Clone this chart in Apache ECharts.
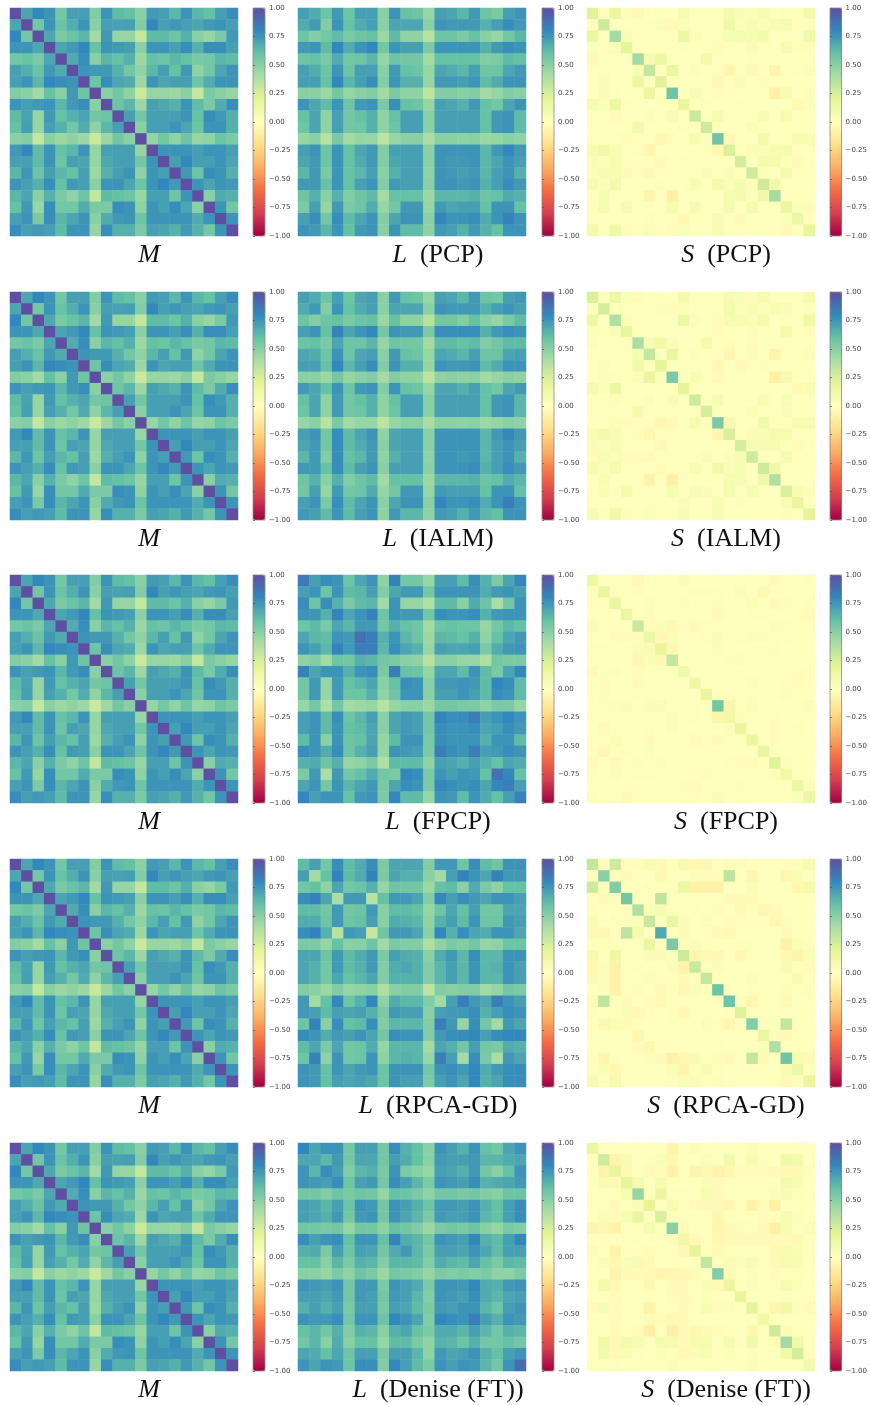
<!DOCTYPE html>
<html><head><meta charset="utf-8">
<style>html,body{margin:0;padding:0;background:#fff}#c{width:870px;height:1405px;filter:blur(0.5px)}</style>
<script src="https://cdn.jsdelivr.net/npm/echarts@6/dist/echarts.min.js"></script>
</head><body><div id="c"></div>
<script>
// Values in hundredths, upper triangle by row (matrices are symmetric)
const M=[[100,70,80,76,56,72,72,52,76,62,60,50,74,72,64,76,64,60,72,78],[100,56,76,59,67,76,50,72,71,72,52,80,72,75,72,70,74,76,72],[100,69,54,59,64,42,74,46,46,32,62,62,58,66,50,46,54,74],[100,70,74,80,60,76,74,72,50,76,76,72,78,66,78,78,72],[100,68,78,50,64,60,66,44,60,58,64,60,54,56,64,62],[100,76,74,74,66,56,48,64,72,60,74,48,56,70,76],[100,58,78,70,68,44,76,70,72,72,58,68,76,76],[100,50,56,48,30,46,46,44,50,32,54,50,46],[100,58,64,44,72,69,66,76,62,54,68,78],[100,72,56,72,72,72,76,60,78,74,66],[100,50,72,72,76,70,58,76,76,66],[100,46,56,48,58,46,48,58,54],[100,76,76,76,72,76,76,72],[100,72,80,72,72,76,70],[100,74,58,78,76,66],[100,76,70,76,74],[100,50,68,66],[100,76,56],[100,76],[100]];
const L_PCP=[[72,68,58,74,58,72,72,50,76,60,58,46,72,70,64,74,58,54,72,76],[74,52,76,60,68,72,50,70,70,70,50,76,74,74,74,66,72,78,74],[56,62,54,58,60,44,62,48,48,36,58,58,54,60,50,46,56,64],[80,68,76,80,56,76,72,72,54,76,76,76,76,66,74,78,76],[56,58,64,46,58,56,56,42,60,60,60,60,52,54,62,60],[72,72,50,74,60,58,46,70,68,64,72,58,58,70,74],[78,52,76,66,66,46,74,74,72,76,62,68,76,76],[42,54,48,48,34,52,52,50,52,42,46,52,50],[78,60,58,46,72,70,66,74,60,56,70,76],[72,72,50,72,72,72,72,60,74,76,62],[72,50,72,72,72,72,60,74,76,62],[40,50,50,48,50,44,46,50,48],[76,76,76,76,64,74,80,74],[74,74,76,64,70,76,72],[72,74,64,72,76,66],[76,66,72,78,74],[58,60,68,66],[76,76,60],[82,76],[76]];
const S_PCP=[[22,2,16,3,-4,1,1,0,8,1,1,1,8,4,3,8,1,2,2,10],[28,1,2,2,2,4,-3,3,1,1,1,12,3,6,3,7,8,2,2],[42,5,1,1,1,-1,14,-2,1,-1,7,8,6,10,1,1,2,12],[20,1,1,1,1,2,1,1,-2,1,1,-3,1,1,8,2,-2],[42,7,14,1,1,1,10,-1,-1,1,2,1,1,1,1,1],[32,2,16,1,3,1,-1,-6,1,-4,1,-7,1,2,4],[22,1,1,1,1,-5,1,-3,1,-2,1,1,1,1],[58,1,6,1,-1,1,1,1,1,-10,8,1,-2],[18,1,3,1,1,2,1,1,2,1,-4,3],[30,1,8,1,1,1,7,1,8,1,1],[28,1,1,1,5,1,1,1,1,1],[58,-5,1,1,10,1,1,6,7],[24,1,4,4,8,8,1,1],[26,1,9,9,1,-3,1],[28,3,2,9,1,1],[28,12,1,1,1],[42,2,1,1],[16,3,-3],[14,2],[18]];
const L_IALM=[[72,68,58,72,58,70,72,50,74,60,58,46,72,70,64,74,58,56,72,74],[74,52,76,60,68,72,50,70,70,70,50,76,74,74,74,66,72,76,72],[58,60,54,58,60,44,60,48,48,36,56,56,52,60,50,46,54,62],[82,70,76,80,56,76,74,74,54,78,78,78,78,66,74,78,76],[58,58,64,46,58,56,56,42,62,62,60,62,52,56,62,62],[70,72,50,74,60,58,46,70,68,64,72,58,58,70,72],[78,52,76,66,66,46,76,74,74,76,62,68,76,76],[42,52,48,48,34,48,50,48,50,42,46,50,48],[76,60,58,46,70,70,66,72,60,56,70,74],[72,72,50,72,72,72,72,60,74,76,64],[72,50,72,72,72,72,60,74,76,64],[40,50,50,48,50,44,46,50,48],[76,76,76,76,64,74,80,74],[76,76,76,64,72,76,72],[74,76,64,72,76,66],[78,66,72,78,74],[58,60,68,64],[76,76,60],[84,76],[76]];
const S_IALM=[[24,2,14,3,-2,1,1,0,9,1,1,1,7,4,-2,8,1,1,2,8],[26,1,2,1,1,3,-2,3,1,1,1,10,3,6,3,6,5,1,2],[38,5,1,1,1,-1,14,-2,1,-2,6,6,5,9,1,-1,-1,13],[18,1,1,1,1,2,1,1,-2,1,1,-2,1,1,9,1,-2],[40,6,13,4,1,1,9,-1,-2,1,-2,1,1,1,1,1],[32,2,16,1,3,1,-1,-6,1,-3,1,-7,1,1,4],[20,1,1,1,1,-5,1,-4,1,-2,1,1,1,1],[54,1,6,1,-3,1,1,1,1,-10,8,1,-1],[20,1,2,1,1,1,1,1,1,1,-4,6],[28,1,8,1,1,1,7,1,7,1,1],[26,1,1,1,5,1,1,4,1,1],[54,-6,1,1,11,1,1,6,7],[24,1,4,4,8,8,1,1],[26,6,7,7,1,-2,1],[28,1,1,8,1,1],[28,12,1,1,1],[38,1,1,1],[24,6,-2],[16,2],[20]];
const L_FPCP=[[85,72,78,76,58,70,76,48,82,56,56,46,72,72,62,78,66,54,70,80],[76,58,76,62,64,72,52,70,74,74,56,76,76,76,76,68,74,76,72],[78,66,54,62,64,42,76,46,46,38,62,62,50,68,58,40,56,76],[82,70,76,82,58,76,74,74,56,78,76,76,78,66,74,76,76],[64,74,74,56,66,60,58,42,58,60,58,58,46,56,64,60],[88,84,66,76,64,58,44,64,62,60,66,48,60,70,74],[84,64,78,70,66,46,72,70,70,72,54,68,74,76],[56,54,50,48,36,50,50,46,46,38,56,54,54],[84,60,58,46,70,70,62,76,62,54,70,80],[78,76,50,74,74,76,74,62,80,78,62],[76,50,72,72,76,72,62,78,76,62],[44,56,56,54,54,48,54,54,46],[82,78,78,84,72,76,80,76],[76,76,78,70,72,78,74],[76,76,66,76,76,62],[84,72,74,78,76],[66,60,70,68],[88,80,60],[84,72],[82]];
const S_FPCP=[[14,-1,1,1,-4,1,-1,1,-3,1,1,1,1,1,1,1,-3,2,1,-1],[16,-1,1,-1,1,2,2,1,-2,-2,-1,1,-3,1,-5,1,1,1,1],[16,1,1,-2,-1,1,-2,1,1,-2,1,1,5,1,-3,3,1,-1],[16,1,-2,1,1,1,1,1,-3,1,1,-1,-1,1,1,1,-3],[30,-2,4,-5,-1,-3,2,1,1,1,1,1,3,-1,1,1],[14,-4,5,1,1,-1,4,1,2,-2,3,2,-1,1,1],[18,-5,1,1,1,-3,1,1,1,1,3,1,1,1],[32,1,1,1,1,3,3,1,1,1,1,1,1],[12,1,1,1,1,1,1,1,1,1,-2,-1],[14,1,-1,-1,1,-2,1,1,-1,-2,-1],[16,1,1,1,1,1,1,-2,1,1],[56,-7,1,-3,1,1,1,1,5],[12,-2,1,1,-1,1,1,1],[18,1,1,-2,1,-2,1],[16,1,-2,1,1,1],[16,1,1,1,1],[22,-2,1,1],[12,1,1],[14,3],[14]];
const L_RPCA=[[62,72,56,78,62,68,78,54,70,70,70,52,74,74,58,78,62,58,76,76],[42,60,82,62,68,82,54,70,66,66,50,42,72,82,76,70,82,74,74],[48,70,56,58,66,46,58,56,56,44,60,62,50,68,54,48,60,60],[40,74,74,36,60,74,74,70,52,80,72,78,74,70,76,76,72],[56,58,74,50,62,62,60,46,58,70,60,72,56,56,70,70],[60,72,50,68,66,64,48,66,72,62,76,58,58,74,72],[32,58,74,74,70,50,80,66,78,70,68,76,76,70],[42,54,52,52,38,48,54,52,56,46,48,58,58],[72,68,66,50,68,74,64,78,64,64,76,76],[70,66,52,64,72,64,76,64,66,76,72],[66,52,64,72,64,76,64,64,76,72],[34,52,50,52,52,42,46,56,54],[42,72,84,74,70,84,76,72],[74,74,78,66,72,78,76],[46,78,56,42,74,70],[80,72,78,80,80],[56,54,68,66],[40,74,70],[78,78],[78]];
const S_RPCA=[[32,2,28,2,-1,6,-4,1,9,-5,-5,1,4,3,1,1,1,-1,-1,8],[50,1,-3,1,1,-5,2,1,3,3,3,34,1,-6,1,1,-6,5,1],[52,1,2,3,1,-1,14,-8,-8,-8,1,1,5,1,1,-1,-5,9],[56,2,2,34,-1,1,1,1,1,-3,5,-3,1,1,1,1,1],[38,5,8,2,1,2,1,-2,1,-4,2,-6,-3,1,1,1],[30,1,16,4,1,-3,1,-2,-1,1,1,-6,-2,1,1],[68,1,4,1,1,-3,-4,1,1,1,1,-3,1,1],[54,2,4,1,1,1,2,2,1,1,-9,5,-1],[28,-7,-3,-5,1,-5,1,1,1,-5,-7,5],[30,2,4,1,1,1,1,1,6,1,-3],[32,1,1,1,5,1,1,1,6,1],[58,-1,1,-1,1,2,3,2,3],[58,2,-6,1,1,-4,1,1],[22,1,2,1,1,1,1],[52,1,1,32,-1,1],[16,4,-3,1,1],[38,1,1,1],[58,6,-4],[14,1],[18]];
const L_DEN=[[80,70,76,76,56,72,72,56,78,66,60,50,76,72,66,76,60,56,70,76],[70,64,74,56,70,70,56,72,68,60,50,74,72,72,74,64,64,68,70],[78,72,52,64,66,54,76,54,50,46,72,70,66,74,56,50,60,76],[78,58,72,74,56,78,72,64,54,76,74,72,78,66,68,70,74],[54,58,56,46,60,58,54,48,56,56,54,56,52,50,58,58],[76,74,56,76,72,66,58,74,74,72,76,66,60,72,78],[76,56,76,70,64,54,74,72,72,76,64,60,72,78],[48,60,56,52,44,54,56,54,58,50,46,54,52],[82,68,64,56,76,74,72,80,66,62,72,80],[74,64,54,72,72,70,76,70,62,72,72],[62,52,68,64,62,70,60,54,64,62],[46,54,52,54,52,54,48,48,54],[76,76,74,80,68,66,74,76],[74,72,78,68,64,70,72],[76,76,64,58,72,76],[84,72,66,76,74],[64,56,66,64],[56,60,56],[72,76],[90]];
const S_DEN=[[16,1,1,1,1,1,1,-7,1,-3,1,1,1,1,-3,1,1,1,1,1],[28,-7,6,1,2,5,-5,1,1,4,1,10,1,6,1,1,12,10,1],[18,-4,1,-3,-2,-8,1,-7,-5,-8,-5,-2,-2,-2,-3,-4,-4,-1],[20,8,1,6,1,1,1,4,-3,1,1,1,1,1,10,6,1],[46,4,16,2,2,1,8,-3,1,1,1,1,-2,6,2,1],[20,1,8,1,-3,-3,-4,-5,1,-8,-2,-10,1,1,1],[24,1,1,1,1,-6,1,1,1,-2,-1,8,3,1],[50,-2,1,1,-6,-3,-2,-1,-4,-10,8,1,-3],[12,-4,1,-5,-3,-3,-3,-3,-3,-3,-4,1],[20,2,-3,1,1,1,1,-5,8,4,1],[32,1,5,3,6,1,-3,8,6,1],[52,-4,1,-2,1,-2,1,2,1],[16,1,3,1,-1,8,3,1],[18,1,1,1,2,1,1],[20,1,-6,12,3,-3],[12,1,1,1,1],[28,-3,1,1],[42,12,1],[26,1],[10]];

const methods=['PCP','IALM','FPCP','RPCA-GD','Denise (FT)'];
const lowRank=[L_PCP,L_IALM,L_FPCP,L_RPCA,L_DEN];
const sparse=[S_PCP,S_IALM,S_FPCP,S_RPCA,S_DEN];
const tickLabels=['-1.00','-0.75','-0.50','-0.25','0.00','0.25','0.50','0.75','1.00'];
const spectral=['#9e0142','#d53e4f','#f46d43','#fdae61','#fee08b','#ffffbf','#e6f598','#abdda4','#66c2a5','#3288bd','#5e4fa2'];
const cells=Array.from({length:20},(_,i)=>String(i));

const rowTop=[8,292,575,859,1143], colLeft=[10,298,587], barLeft=[253,542,830], labelX=[149,438,726];
const SIZE=228, BAR=12;

function mirror(tri,name){
  const out=[];
  tri.forEach((r,i)=>{
    if(r.length!==20-i) throw new Error(name+' row '+i+' has '+r.length);
    r.forEach((v,k)=>{const j=i+k;out.push([j,i,v/100]);if(j!==i)out.push([i,j,v/100]);});
  });
  return out;
}
const serif='"Liberation Serif","DejaVu Serif",serif';
const rich={i:{fontFamily:serif,fontStyle:'italic',fontWeight:'normal',fontSize:26,fill:'#111'},t:{fontFamily:serif,fontWeight:'normal',fontSize:26,fill:'#111'}};
const grid=[],xAxis=[],yAxis=[],series=[],visualMap=[],graphic=[];
function panel(r,c,tri,name,lab){
  const h=grid.length;
  grid.push({left:colLeft[c],top:rowTop[r],width:SIZE,height:SIZE,show:false});
  xAxis.push({type:'category',gridIndex:h,data:cells,show:false});
  yAxis.push({type:'category',gridIndex:h,data:cells,show:false,inverse:true});
  series.push({type:'heatmap',xAxisIndex:h,yAxisIndex:h,data:mirror(tri,name),progressive:0,silent:true,itemStyle:{borderWidth:0}});
  visualMap.push({type:'continuous',min:-1,max:1,seriesIndex:series.length-1,left:barLeft[c],top:rowTop[r],itemWidth:BAR,itemHeight:SIZE,padding:0,text:null,showLabel:false,calculable:false,realtime:false,hoverLink:false,inRange:{color:spectral}});
  const b=grid.length;
  grid.push({left:barLeft[c],top:rowTop[r],width:BAR,height:SIZE,show:true,backgroundColor:'transparent',borderColor:'#888',borderWidth:0.8,z:5});
  xAxis.push({type:'value',gridIndex:b,show:false,min:0,max:1});
  yAxis.push({type:'value',gridIndex:b,position:'right',min:-1,max:1,interval:0.25,splitLine:{show:false},
    axisLine:{show:false},axisTick:{show:true,length:2,lineStyle:{color:'#555',width:0.7}},
    axisLabel:{margin:4,fontSize:7,color:'#444',fontFamily:'"DejaVu Sans"',formatter:v=>{const k=Math.round((v+1)/0.25);return tickLabels[k].replace('-','\u2212');}},z:5});
  graphic.push({type:'text',x:labelX[c],y:rowTop[r]+247,z:10,style:{text:lab,rich,align:'center',verticalAlign:'middle',font:'26px '+serif,fill:'#111'}});
}
methods.forEach((m,r)=>{
  panel(r,0,M,'M','{i|M}');
  panel(r,1,lowRank[r],'L '+m,'{i|L}{t|  ('+m+')}');
  panel(r,2,sparse[r],'S '+m,'{i|S}{t|  ('+m+')}');
});
const chart=echarts.init(document.getElementById('c'),null,{renderer:'canvas'});
chart.setOption({animation:false,backgroundColor:'#fff',tooltip:{show:false},graphic,grid,xAxis,yAxis,visualMap,series});
</script></body></html>
